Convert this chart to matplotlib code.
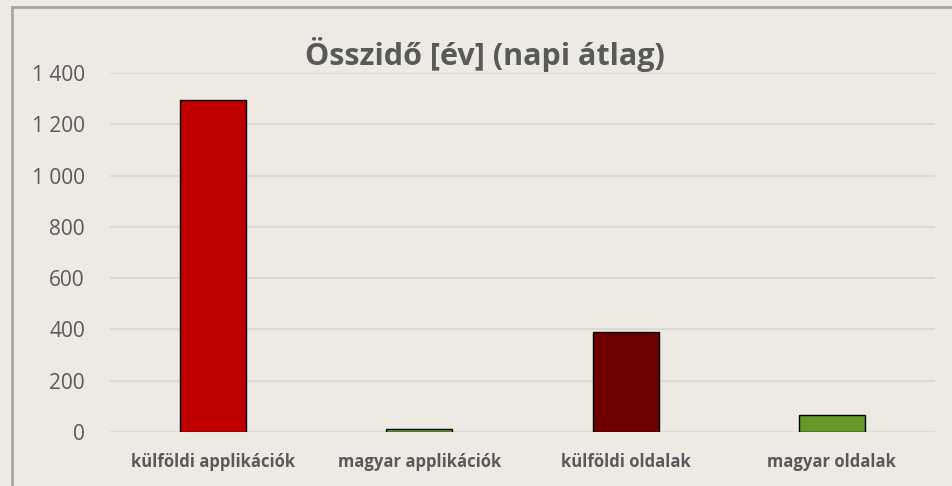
import matplotlib.pyplot as plt
from matplotlib.lines import Line2D
from matplotlib.ticker import FuncFormatter

kategoriak = ["külföldi applikációk", "magyar applikációk", "külföldi oldalak", "magyar oldalak"]
ertekek = [1295, 10, 390, 65]
szinek = ["#C00000", "#6B9A2B", "#700000", "#66992A"]
cim = "Összidő [év] (napi átlag)"

hatter = "#EDEAE4"
szurke = "#595959"

plt.rcParams["font.family"] = ["Open Sans", "DejaVu Sans"]

fig = plt.figure(figsize=(9.53, 4.86), dpi=100, facecolor=hatter)
ax = fig.add_axes([110 / 953, 1 - 432 / 486, 825 / 953, (432 - 73) / 486])
ax.set_facecolor(hatter)

x = range(len(kategoriak))
ax.bar(x, ertekek, width=0.32, color=szinek, edgecolor="black", linewidth=1, zorder=3)

ax.set_xlim(-0.5, len(kategoriak) - 0.5)
ax.set_ylim(0, 1400)
ax.set_yticks(range(0, 1401, 200))
ax.yaxis.set_major_formatter(FuncFormatter(lambda v, p: f"{int(v):,}".replace(",", " ")))
ax.set_xticks(list(x))
ax.set_xticklabels(kategoriak, fontweight="bold", fontsize=12, color=szurke)
ax.tick_params(axis="y", length=0, pad=18, labelsize=15, labelcolor=szurke)
ax.tick_params(axis="x", length=0, pad=15)
ax.grid(axis="y", color="#DCD9D4", linewidth=1.5, zorder=0)
for s in ax.spines.values():
    s.set_visible(False)

fig.text(485 / 953, 1 - 55 / 486, cim, ha="center", va="center",
         fontsize=22, fontweight="bold", color=szurke)

# keret (felső és bal vonal)
fig.add_artist(Line2D([12 / 953, 1], [1 - 7.5 / 486, 1 - 7.5 / 486], color="#A6A6A6", linewidth=2))
fig.add_artist(Line2D([12 / 953, 12 / 953], [0, 1 - 7.5 / 486], color="#A6A6A6", linewidth=2))

fig.savefig("out.png", dpi=100, facecolor=hatter)
